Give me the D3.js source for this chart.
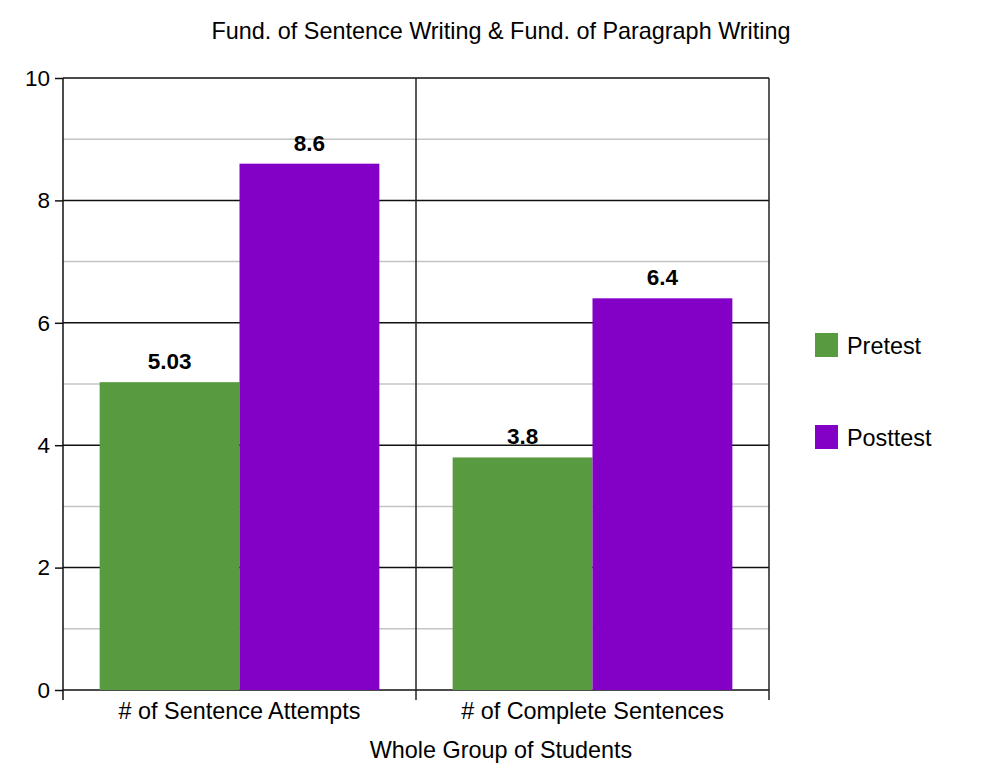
<!DOCTYPE html>
<html>
<head>
<meta charset="utf-8">
<script src="https://cdn.jsdelivr.net/npm/d3@7"></script>
<style>
  body { margin: 0; background: #fff; }
  text { font-family: "Liberation Sans", Arial, sans-serif; }
</style>
</head>
<body>
<div class="chart-wrapper"></div>
<script>
// chart data
const categories = ["# of Sentence Attempts", "# of Complete Sentences"];
const seriesNames = ["Pretest", "Posttest"];
const pretest = [5.03, 3.8];
const posttest = [8.6, 6.4];
const valueLabels = [["5.03", "3.8"], ["8.6", "6.4"]];
const yTicks = [0, 2, 4, 6, 8, 10];
const yMinorTicks = [1, 3, 5, 7, 9];
const colors = ["#589a3f", "#8300c7"];

const width = 998, height = 770;
const margin = { top: 78, right: 229, bottom: 80, left: 63 };
const fontSize = "23.4px";

const svg = d3.select(".chart-wrapper")
  .append("svg")
  .attr("width", width)
  .attr("height", height);

const x = d3.scaleBand()
  .domain(categories)
  .range([margin.left, width - margin.right])
  .paddingInner(0)
  .paddingOuter(0);

const inner = d3.scaleBand()
  .domain(seriesNames)
  .range([0, x.bandwidth()])
  .paddingInner(0)
  .paddingOuter(0.262);

const y = d3.scaleLinear()
  .domain([0, 10])
  .range([height - margin.bottom, margin.top]);

// minor grid lines
svg.append("g")
  .selectAll("line")
  .data(yMinorTicks)
  .enter()
  .append("line")
  .attr("x1", margin.left)
  .attr("x2", width - margin.right)
  .attr("y1", d => y(d))
  .attr("y2", d => y(d))
  .style("stroke", "#c4c4c4")
  .style("stroke-width", 1.5);

// major grid lines
svg.append("g")
  .selectAll("line")
  .data(yTicks)
  .enter()
  .append("line")
  .attr("x1", margin.left)
  .attr("x2", width - margin.right)
  .attr("y1", d => y(d))
  .attr("y2", d => y(d))
  .style("stroke", "#111")
  .style("stroke-width", 1.5);

// bars
const series = [pretest, posttest];
const groups = svg.append("g")
  .selectAll("g")
  .data(categories)
  .enter()
  .append("g")
  .attr("transform", d => `translate(${x(d)},0)`);

groups.selectAll("rect")
  .data((d, i) => seriesNames.map((s, j) => ({ s, v: series[j][i], j })))
  .enter()
  .append("rect")
  .attr("x", d => inner(d.s))
  .attr("width", inner.bandwidth())
  .attr("y", d => y(d.v))
  .attr("height", d => y(0) - y(d.v))
  .style("fill", d => colors[d.j]);

groups.selectAll(".value-label")
  .data((d, i) => seriesNames.map((s, j) => ({ s, v: series[j][i], label: valueLabels[j][i] })))
  .enter()
  .append("text")
  .attr("class", "value-label")
  .attr("x", d => inner(d.s) + inner.bandwidth() / 2)
  .attr("y", d => y(d.v) - 13)
  .attr("text-anchor", "middle")
  .attr("font-size", "22.5px")
  .attr("font-weight", "bold")
  .text(d => d.label);

// category dividers and right border
const edges = categories.map(c => x(c)).concat([x.range()[1]]);
svg.append("g")
  .selectAll("line")
  .data(edges)
  .enter()
  .append("line")
  .attr("x1", d => d)
  .attr("x2", d => d)
  .attr("y1", margin.top)
  .attr("y2", y(0) + 10)
  .style("stroke", (d, i) => i === 0 ? "#111" : "#222")
  .style("stroke-width", 1.5);

// y axis
const yAxis = svg.append("g")
  .attr("transform", `translate(${margin.left},0)`)
  .call(d3.axisLeft(y).tickValues(yTicks).tickSize(8).tickPadding(5));
yAxis.select(".domain").remove();
yAxis.selectAll(".tick line").style("stroke", "#111").style("stroke-width", 1.5);
yAxis.selectAll(".tick text")
  .attr("font-size", "22.5px")
  .attr("font-family", "Liberation Sans, Arial, sans-serif")
  .style("fill", "#000");

// category labels
svg.append("g")
  .selectAll("text")
  .data(categories)
  .enter()
  .append("text")
  .attr("x", d => x(d) + x.bandwidth() / 2)
  .attr("y", y(0) + 29)
  .attr("text-anchor", "middle")
  .attr("font-size", fontSize)
  .text(d => d);

// titles
svg.append("text")
  .attr("x", 501)
  .attr("y", 39)
  .attr("text-anchor", "middle")
  .attr("font-size", fontSize)
  .text("Fund. of Sentence Writing & Fund. of Paragraph Writing");

svg.append("text")
  .attr("x", 501)
  .attr("y", 758)
  .attr("text-anchor", "middle")
  .attr("font-size", fontSize)
  .text("Whole Group of Students");

// legend
const legend = svg.append("g")
  .selectAll("g")
  .data(seriesNames)
  .enter()
  .append("g")
  .attr("transform", (d, i) => `translate(815,${333 + i * 92})`);

legend.append("rect")
  .attr("width", 23)
  .attr("height", 24)
  .style("fill", (d, i) => colors[i]);

legend.append("text")
  .attr("x", 32)
  .attr("y", 21)
  .attr("font-size", fontSize)
  .text(d => d);
</script>
</body>
</html>
